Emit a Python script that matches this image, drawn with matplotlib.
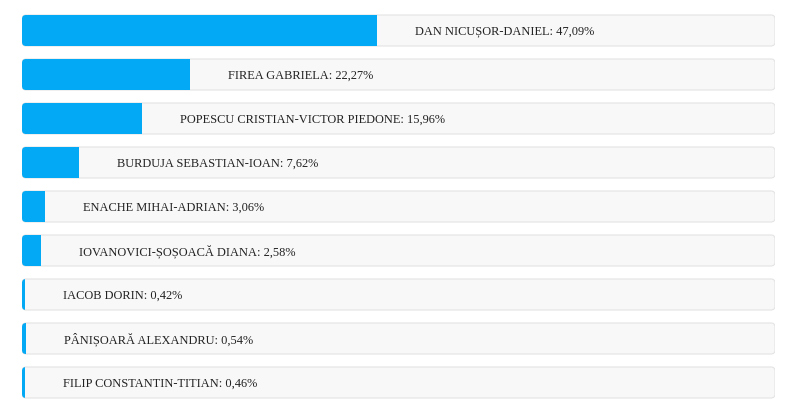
import matplotlib.pyplot as plt
from matplotlib.patches import FancyBboxPatch, Rectangle

candidates = ['DAN NICUȘOR-DANIEL', 'FIREA GABRIELA', 'POPESCU CRISTIAN-VICTOR PIEDONE',
              'BURDUJA SEBASTIAN-IOAN', 'ENACHE MIHAI-ADRIAN', 'IOVANOVICI-ȘOȘOACĂ DIANA',
              'IACOB DORIN', 'PÂNIȘOARĂ ALEXANDRU', 'FILIP CONSTANTIN-TITIAN']
percent = [47.09, 22.27, 15.96, 7.62, 3.06, 2.58, 0.42, 0.54, 0.46]
labels = [f'{p:.2f}'.replace('.', ',') for p in percent]

blue = '#03a9f4'
track = '#f8f8f8'
edge = '#e4e4e4'

W, H, dpi = 800, 413, 100
fig = plt.figure(figsize=(W / dpi, H / dpi), dpi=dpi)
left_px, right_px = 22, 775
ax = fig.add_axes([left_px / W, 0, (right_px - left_px) / W, 1])
ax.axis('off')

row_px = 44
first_px = 30.5
ax.set_xlim(0, 100)
ax.set_ylim((H - first_px) / row_px, -first_px / row_px)

# px -> data units
xu = 100 / (right_px - left_px)
yu = 1 / row_px
bar_h = 31 * yu
radius = 4 * xu
aspect = yu / xu

for i, (name, p, lab) in enumerate(zip(candidates, percent, labels)):
    y0 = i - bar_h / 2
    bg = FancyBboxPatch((0, y0), 100, bar_h, boxstyle=f'round,pad=0,rounding_size={radius}',
                        mutation_aspect=aspect, facecolor=track, edgecolor=edge, linewidth=0.8)
    ax.add_patch(bg)
    # blue part: same rounded shape, cut at the value
    fill = FancyBboxPatch((0, y0), 100, bar_h, boxstyle=f'round,pad=0,rounding_size={radius}',
                          mutation_aspect=aspect, facecolor=blue, edgecolor='none')
    ax.add_patch(fill)
    clip = Rectangle((0, y0 - 0.05), p, bar_h + 0.1, transform=ax.transData)
    fill.set_clip_path(clip)
    ax.annotate(f'{name}: {lab}%', xy=(p, i), xytext=(38, -1), textcoords='offset pixels',
                ha='left', va='center', fontsize=8.9, family='Liberation Serif', color='#222222')

fig.savefig('out.png', dpi=dpi, facecolor='white')
